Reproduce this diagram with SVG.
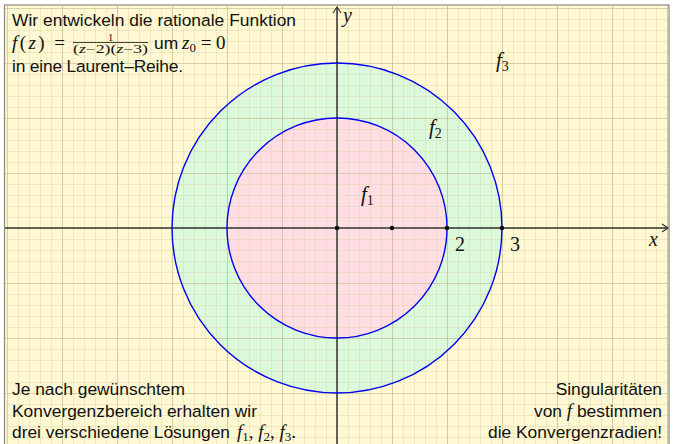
<svg xmlns="http://www.w3.org/2000/svg" width="677" height="444" viewBox="0 0 677 444">
<defs>
<style>
.t{font-family:"Liberation Sans",Arial,sans-serif;font-size:17.4px;fill:#111}
.m{font-family:"Liberation Serif","Times New Roman",serif;font-style:italic;fill:#111}
.n{font-family:"Liberation Serif","Times New Roman",serif;fill:#111}
.minor{stroke:#d8cfa0;stroke-width:1;stroke-opacity:0.75}
.major{stroke:#b5ab85;stroke-width:1.2;stroke-opacity:0.8}
.circ{fill:none;stroke:#0000ee;stroke-width:1.4}
.ax{stroke:#333;stroke-width:1.5;fill:none}
</style>
<pattern id="gmin" x="337" y="228" width="11" height="11" patternUnits="userSpaceOnUse">
<path d="M0,0H11M0,0V11" class="minor"/>
</pattern>
<pattern id="gmaj" x="337" y="228" width="55" height="55" patternUnits="userSpaceOnUse">
<path d="M0,0H55M0,0V55" class="major"/>
</pattern>
<marker id="arr" markerWidth="10" markerHeight="10" refX="8" refY="5" orient="auto" markerUnits="userSpaceOnUse">
<path d="M2,1 L8,5 L2,9" fill="none" stroke="#333" stroke-width="1.2"/>
</marker>
</defs>
<rect x="0" y="0" width="677" height="444" fill="#ffffff"/>
<rect x="4.5" y="5" width="664.5" height="445" fill="#fff8d2" stroke="#8a8a80" stroke-width="1.2"/>
<g id="regions">
<circle cx="337" cy="228" r="165" fill="#dcf9dc"/>
<circle cx="337" cy="228" r="110" fill="#ffdde2"/>
</g>
<g id="grid">
<rect x="5" y="5.6" width="663.4" height="440" fill="url(#gmin)"/>
<rect x="5" y="5.6" width="663.4" height="440" fill="url(#gmaj)"/>
</g>
<g id="connectors">
<line x1="5" y1="228" x2="668" y2="228" class="ax" marker-end="url(#arr)"/>
<line x1="337" y1="444" x2="337" y2="7" class="ax" marker-end="url(#arr)"/>
</g>
<g id="circle-f1"><circle cx="337" cy="228" r="110" class="circ"/></g>
<g id="circle-f2"><circle cx="337" cy="228" r="165" class="circ"/></g>
<g id="points" fill="#111">
<circle cx="337" cy="228" r="2.3"/>
<circle cx="392" cy="228" r="2.3"/>
<circle cx="447" cy="228" r="2.3"/>
<circle cx="502" cy="228" r="2.3"/>
</g>
<g id="labels">
<text x="343" y="22" class="m" font-size="20">y</text>
<text x="649" y="246" class="m" font-size="20">x</text>
<text x="455" y="251" class="n" font-size="20">2</text>
<text x="510" y="251" class="n" font-size="20">3</text>
<text x="361" y="201" class="m" font-size="21">f<tspan font-size="14" font-style="normal" dy="4">1</tspan></text>
<text x="429" y="134" class="m" font-size="21">f<tspan font-size="14" font-style="normal" dy="4">2</tspan></text>
<text x="496" y="67" class="m" font-size="21">f<tspan font-size="14" font-style="normal" dy="4">3</tspan></text>
</g>
<g id="intro">
<text x="12" y="26" class="t" textLength="284" lengthAdjust="spacing">Wir entwickeln die rationale Funktion</text>
<text x="12" y="49" class="m" font-size="19" textLength="53" lengthAdjust="spacing">f<tspan font-style="normal">(</tspan>z<tspan font-style="normal">) =</tspan></text>
<text x="110.5" y="40.5" class="n" font-size="10.5" text-anchor="middle">1</text>
<line x1="73" y1="42.5" x2="148" y2="42.5" stroke="#111" stroke-width="0.8"/>
<text x="73" y="53" class="n" font-size="12" textLength="75" lengthAdjust="spacingAndGlyphs">(<tspan font-style="italic">z</tspan>−2)(<tspan font-style="italic">z</tspan>−3)</text>
<text x="154" y="49" class="t">um</text>
<text x="182" y="49" class="m" font-size="19">z<tspan font-size="13" font-style="normal" dy="3">0</tspan><tspan font-style="normal" dy="-3"> = 0</tspan></text>
<text x="12" y="72" class="t" textLength="171" lengthAdjust="spacing">in eine Laurent–Reihe.</text>
</g>
<g id="note-left">
<text x="12" y="395" class="t" textLength="173" lengthAdjust="spacing">Je nach gewünschtem</text>
<text x="12" y="417" class="t" textLength="245" lengthAdjust="spacing">Konvergenzbereich erhalten wir</text>
<text x="12" y="438" class="t" textLength="218" lengthAdjust="spacing">drei verschiedene Lösungen</text>
<text x="237" y="438" class="m" font-size="19">f<tspan font-size="13" font-style="normal" dy="3">1</tspan><tspan font-style="normal" dy="-3">, </tspan>f<tspan font-size="13" font-style="normal" dy="3">2</tspan><tspan font-style="normal" dy="-3">, </tspan>f<tspan font-size="13" font-style="normal" dy="3">3</tspan><tspan font-style="normal" dy="-3">.</tspan></text>
</g>
<g id="note-right">
<text x="662" y="395" class="t" text-anchor="end">Singularitäten</text>
<text x="662" y="417" class="t" text-anchor="end">von <tspan class="m" font-size="19">f</tspan> bestimmen</text>
<text x="662" y="438" class="t" text-anchor="end">die Konvergenzradien!</text>
</g>
</svg>
